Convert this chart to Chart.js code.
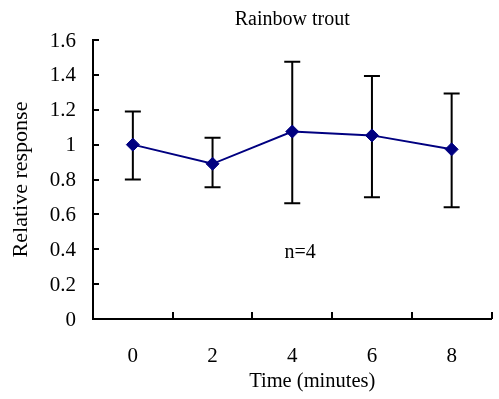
<!DOCTYPE html>
<html>
<head>
<meta charset="utf-8">
<title>Rainbow trout</title>
<script src="https://cdn.jsdelivr.net/npm/chart.js@4.4.1/dist/chart.umd.min.js"></script>
<style>
  html, body { margin: 0; padding: 0; background: #fff; }
  canvas { display: block; }
</style>
</head>
<body>
<canvas id="grafica" width="499" height="399"></canvas>
<script>
// time points (minutes) and mean relative response
const times = ['0', '2', '4', '6', '8'];
const response = [1.00, 0.89, 1.075, 1.053, 0.973];
// error bar ends
const errLow = [0.80, 0.756, 0.664, 0.698, 0.641];
const errHigh = [1.19, 1.04, 1.475, 1.393, 1.293];
const yTicks = [0, 0.2, 0.4, 0.6, 0.8, 1, 1.2, 1.4, 1.6];

const serif = "'Liberation Serif', 'Times New Roman', serif";
const navy = '#000080';

const graph = document.querySelector('#grafica');

// error bars, drawn under the line and markers
const errorBars = {
    id: 'errorBars',
    beforeDatasetsDraw(chart) {
        const {ctx, scales: {x, y}} = chart;
        ctx.save();
        ctx.strokeStyle = '#000';
        ctx.lineWidth = 2;
        times.forEach((t, i) => {
            const px = x.getPixelForValue(i);
            const top = y.getPixelForValue(errHigh[i]);
            const bottom = y.getPixelForValue(errLow[i]);
            ctx.beginPath();
            ctx.moveTo(px, top);
            ctx.lineTo(px, bottom);
            ctx.moveTo(px - 8, top);
            ctx.lineTo(px + 8, top);
            ctx.moveTo(px - 8, bottom);
            ctx.lineTo(px + 8, bottom);
            ctx.stroke();
        });
        ctx.restore();
    }
};

// short tick marks pointing into the plot, plus the loose captions
const axisExtras = {
    id: 'axisExtras',
    afterDraw(chart) {
        const {ctx, chartArea, scales: {x, y}} = chart;
        ctx.save();
        ctx.strokeStyle = '#000';
        ctx.lineWidth = 2;
        ctx.beginPath();
        y.ticks.forEach((t, i) => {
            const py = Math.round(y.getPixelForTick(i));
            ctx.moveTo(chartArea.left, py);
            ctx.lineTo(chartArea.left + 6, py);
        });
        const half = (x.getPixelForValue(1) - x.getPixelForValue(0)) / 2;
        times.forEach((t, i) => {
            const px = Math.round(x.getPixelForValue(i) + half);
            ctx.moveTo(px, chartArea.bottom);
            ctx.lineTo(px, chartArea.bottom - 7);
        });
        ctx.stroke();

        ctx.fillStyle = '#000';
        ctx.textAlign = 'center';
        ctx.textBaseline = 'middle';
        ctx.font = '20.5px ' + serif;
        ctx.fillText('Time (minutes)', chartArea.left + (chartArea.right - chartArea.left) / 2 + 20, 382);
        ctx.font = '20px ' + serif;
        ctx.fillText('n=4', x.getPixelForValue(2.1), y.getPixelForValue(0.38));
        ctx.restore();
    }
};

const config = {
    type: 'line',
    data: {
        labels: times,
        datasets: [{
            data: response,
            borderColor: navy,
            backgroundColor: navy,
            borderWidth: 2,
            pointStyle: 'rectRot',
            pointRadius: 6.5,
            pointBorderWidth: 1,
            pointBorderColor: navy,
            pointBackgroundColor: navy,
            tension: 0
        }]
    },
    options: {
        responsive: false,
        animation: false,
        layout: { padding: { left: 0, right: 6, top: 0, bottom: 0 } },
        plugins: {
            legend: { display: false },
            tooltip: { enabled: false },
            title: {
                display: true,
                text: 'Rainbow trout',
                fullSize: false,
                color: '#000',
                font: { family: serif, size: 20, weight: 'normal' },
                padding: { top: 8, bottom: 8 }
            }
        },
        scales: {
            x: {
                type: 'category',
                offset: true,
                grid: { display: false, drawTicks: false },
                border: { display: true, color: '#000', width: 2 },
                ticks: {
                    color: '#000',
                    padding: 25,
                    font: { family: serif, size: 21 }
                },
                afterFit(scale) { scale.height = 80; }
            },
            y: {
                min: 0,
                max: 1.6,
                grid: { display: false, drawTicks: false },
                border: { display: true, color: '#000', width: 2 },
                afterBuildTicks(scale) {
                    scale.ticks = yTicks.map(v => ({ value: v }));
                },
                ticks: {
                    color: '#000',
                    padding: 17,
                    labelOffset: 1,
                    font: { family: serif, size: 21 },
                    callback: v => String(+v.toFixed(1))
                },
                title: {
                    display: true,
                    text: 'Relative response',
                    color: '#000',
                    font: { family: serif, size: 22 },
                    padding: { top: 8, bottom: 0 }
                },
                afterFit(scale) { scale.width = 93; }
            }
        }
    },
    plugins: [errorBars, axisExtras]
};

const myChart = new Chart(graph, config);
</script>
</body>
</html>
